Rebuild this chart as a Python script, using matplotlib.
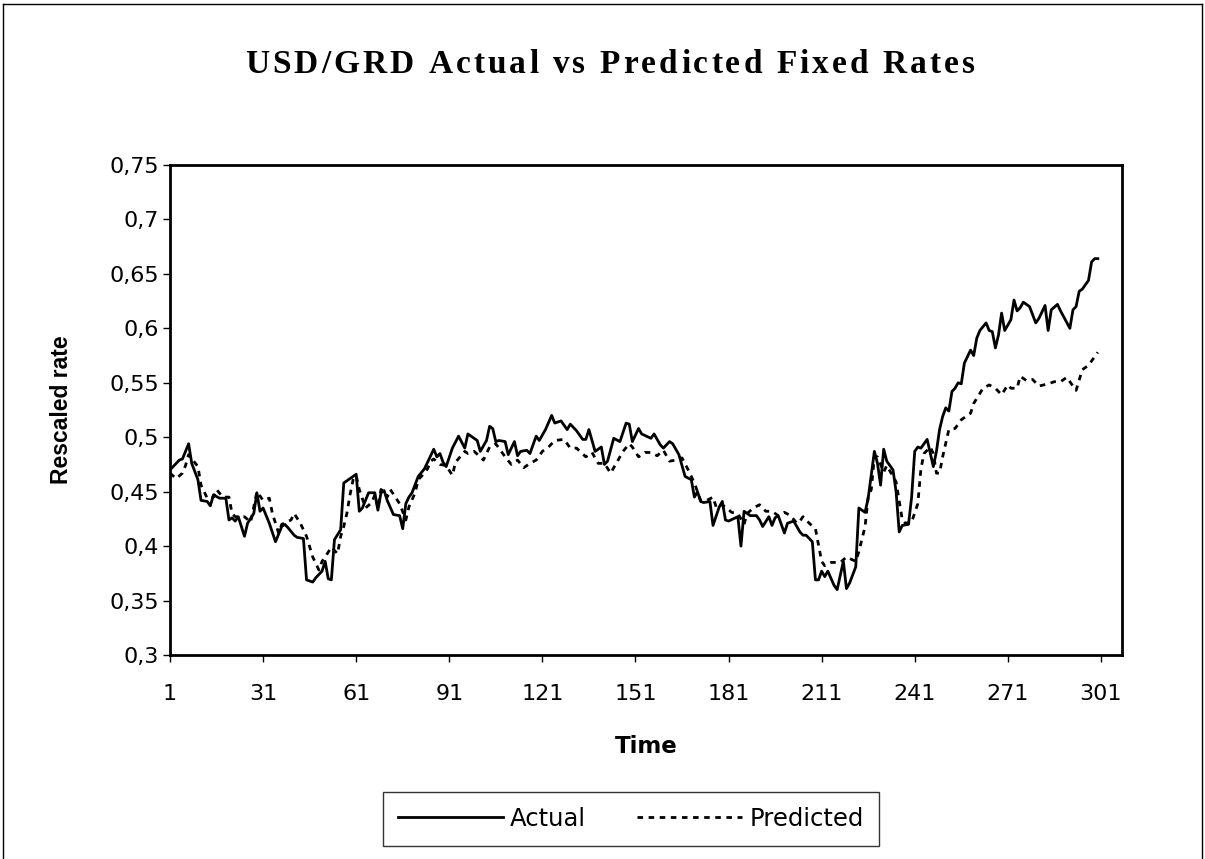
import matplotlib.pyplot as plt
from matplotlib.lines import Line2D

# time index and values
actual_t = [1, 4, 5, 7, 8, 10, 11, 13, 14, 15, 17, 19, 20, 21, 22, 23, 25, 26, 28, 29,
            30, 31, 33, 35, 37, 38, 39, 41, 42, 44, 45, 47, 48, 50, 51, 52, 53, 54, 56, 57,
            60, 61, 62, 63, 65, 67, 68, 69, 70, 71, 73, 75, 76, 77, 78, 79, 81, 83, 84, 86,
            87, 88, 89, 90, 92, 94, 96, 97, 99, 100, 101, 103, 104, 105, 106, 107, 109, 110, 112, 113,
            114, 116, 117, 119, 120, 122, 124, 125, 127, 129, 130, 132, 134, 135, 136, 138, 140, 141, 142, 144,
            146, 148, 149, 150, 152, 153, 156, 157, 159, 160, 162, 163, 165, 167, 169, 170, 171, 172, 173, 175,
            176, 178, 179, 180, 181, 184, 185, 186, 188, 190, 191, 192, 194, 195, 196, 197, 199, 200, 202, 204,
            205, 206, 208, 209, 210, 211, 212, 213, 215, 216, 218, 219, 220, 222, 223, 225, 226, 228, 229, 230,
            231, 232, 234, 235, 236, 237, 239, 240, 241, 242, 243, 245, 247, 248, 249, 250, 251, 252, 253, 254,
            255, 256, 257, 259, 260, 261, 262, 264, 265, 266, 267, 268, 269, 270, 272, 273, 274, 275, 276, 278,
            280, 281, 283, 284, 285, 287, 288, 291, 292, 293, 294, 295, 297, 298, 299, 300]
actual = [0.470, 0.479, 0.480, 0.494, 0.476, 0.461, 0.442, 0.441, 0.437, 0.447, 0.444, 0.444, 0.424, 0.426, 0.423, 0.427, 0.409, 0.421, 0.430, 0.449,
          0.432, 0.435, 0.421, 0.404, 0.418, 0.420, 0.417, 0.410, 0.408, 0.407, 0.369, 0.367, 0.371, 0.377, 0.386, 0.370, 0.369, 0.406, 0.415, 0.458,
          0.464, 0.466, 0.432, 0.435, 0.449, 0.449, 0.433, 0.449, 0.451, 0.442, 0.429, 0.428, 0.416, 0.439, 0.445, 0.449, 0.464, 0.471, 0.477, 0.489,
          0.482, 0.485, 0.477, 0.473, 0.490, 0.501, 0.490, 0.503, 0.499, 0.497, 0.487, 0.497, 0.510, 0.508, 0.496, 0.497, 0.496, 0.484, 0.496, 0.483,
          0.487, 0.488, 0.485, 0.501, 0.497, 0.507, 0.520, 0.513, 0.515, 0.507, 0.512, 0.506, 0.498, 0.498, 0.507, 0.487, 0.491, 0.475, 0.478, 0.499,
          0.496, 0.513, 0.512, 0.496, 0.508, 0.503, 0.499, 0.503, 0.493, 0.490, 0.496, 0.494, 0.484, 0.464, 0.461, 0.445, 0.450, 0.441, 0.440, 0.441,
          0.419, 0.436, 0.441, 0.424, 0.423, 0.427, 0.400, 0.432, 0.428, 0.428, 0.424, 0.418, 0.427, 0.419, 0.426, 0.428, 0.412, 0.421, 0.423, 0.413,
          0.410, 0.410, 0.404, 0.369, 0.369, 0.377, 0.372, 0.377, 0.364, 0.360, 0.386, 0.361, 0.366, 0.381, 0.435, 0.431, 0.444, 0.487, 0.476, 0.456,
          0.489, 0.478, 0.470, 0.450, 0.413, 0.419, 0.420, 0.445, 0.487, 0.491, 0.490, 0.498, 0.473, 0.487, 0.507, 0.519, 0.527, 0.524, 0.542, 0.545,
          0.550, 0.549, 0.568, 0.580, 0.575, 0.591, 0.598, 0.605, 0.598, 0.597, 0.582, 0.594, 0.614, 0.598, 0.608, 0.626, 0.616, 0.619, 0.624, 0.620,
          0.605, 0.609, 0.621, 0.598, 0.617, 0.622, 0.616, 0.600, 0.617, 0.620, 0.634, 0.636, 0.644, 0.661, 0.664, 0.664]

pred_t = [1, 3, 5, 6, 7, 10, 11, 13, 15, 16, 18, 20, 21, 22, 25, 27, 29, 31, 33, 34,
          36, 37, 40, 41, 43, 45, 47, 49, 50, 51, 53, 55, 56, 57, 58, 59, 60, 61, 62, 64,
          66, 67, 68, 69, 70, 71, 72, 75, 77, 78, 80, 81, 82, 84, 85, 86, 88, 90, 92, 93,
          96, 97, 99, 101, 102, 104, 106, 109, 111, 113, 115, 117, 119, 121, 123, 125, 128, 130, 132, 135,
          137, 139, 141, 143, 145, 147, 149, 150, 152, 154, 156, 158, 160, 162, 164, 166, 168, 170, 172, 174,
          176, 177, 178, 180, 182, 184, 186, 187, 189, 191, 193, 195, 197, 199, 201, 203, 204, 205, 207, 209,
          210, 211, 212, 214, 217, 219, 222, 223, 225, 226, 227, 228, 229, 231, 232, 235, 237, 238, 240, 242,
          243, 244, 246, 247, 248, 249, 250, 252, 254, 256, 257, 259, 260, 263, 265, 267, 269, 271, 272, 274,
          275, 277, 279, 281, 284, 286, 288, 290, 293, 295, 297, 300]
predicted = [0.467, 0.462, 0.467, 0.474, 0.484, 0.473, 0.456, 0.444, 0.445, 0.452, 0.445, 0.445, 0.430, 0.427, 0.427, 0.422, 0.450, 0.442, 0.444, 0.430,
             0.412, 0.420, 0.424, 0.430, 0.421, 0.409, 0.390, 0.378, 0.386, 0.390, 0.399, 0.393, 0.409, 0.418, 0.430, 0.447, 0.461, 0.465, 0.452, 0.435,
             0.440, 0.447, 0.435, 0.452, 0.450, 0.445, 0.452, 0.439, 0.424, 0.436, 0.449, 0.461, 0.464, 0.471, 0.478, 0.480, 0.475, 0.474, 0.465, 0.477,
             0.487, 0.485, 0.487, 0.482, 0.479, 0.491, 0.494, 0.482, 0.475, 0.479, 0.472, 0.476, 0.479, 0.487, 0.491, 0.497, 0.498, 0.490, 0.490, 0.482,
             0.486, 0.476, 0.476, 0.467, 0.477, 0.487, 0.494, 0.491, 0.482, 0.486, 0.486, 0.483, 0.488, 0.478, 0.479, 0.481, 0.470, 0.458, 0.442, 0.442,
             0.445, 0.436, 0.439, 0.436, 0.431, 0.430, 0.420, 0.430, 0.435, 0.438, 0.432, 0.432, 0.428, 0.431, 0.428, 0.421, 0.423, 0.427, 0.421, 0.416,
             0.401, 0.386, 0.382, 0.385, 0.385, 0.390, 0.386, 0.395, 0.418, 0.445, 0.452, 0.482, 0.482, 0.468, 0.474, 0.459, 0.424, 0.421, 0.422, 0.439,
             0.471, 0.485, 0.491, 0.485, 0.467, 0.467, 0.482, 0.507, 0.508, 0.516, 0.518, 0.522, 0.531, 0.545, 0.548, 0.545, 0.539, 0.548, 0.545, 0.545,
             0.556, 0.552, 0.553, 0.547, 0.549, 0.551, 0.551, 0.555, 0.543, 0.562, 0.566, 0.578]

x_ticks = [1, 31, 61, 91, 121, 151, 181, 211, 241, 271, 301]
y_ticks = [0.3, 0.35, 0.4, 0.45, 0.5, 0.55, 0.6, 0.65, 0.7, 0.75]
y_labels = ["0,3", "0,35", "0,4", "0,45", "0,5", "0,55", "0,6", "0,65", "0,7", "0,75"]
title = "USD/GRD Actual vs Predicted Fixed Rates"

plt.rcParams["font.family"] = ["DejaVu Sans"]
W, H = 1205, 859

fig = plt.figure(figsize=(W / 100, H / 100), dpi=100)
ax = fig.add_axes([170 / W, 1 - 655 / H, 952 / W, 490 / H])

ax.plot(actual_t, actual, color="black", linewidth=2.0, label="Actual")
ax.plot(pred_t, predicted, color="black", linewidth=2.0, linestyle=(0, (2, 2)), label="Predicted")

ax.set_xlim(1, 307.8)
ax.set_ylim(0.3, 0.75)
ax.set_xticks(x_ticks)
ax.set_xticklabels([str(t) for t in x_ticks])
ax.set_yticks(y_ticks)
ax.set_yticklabels(y_labels)
ax.tick_params(axis="both", labelsize=16, direction="out", length=5, width=1, color="black")
ax.tick_params(axis="x", pad=16)
ax.tick_params(axis="y", pad=3)
for s in ax.spines.values():
    s.set_linewidth(2)
    s.set_color("black")

ax.set_xlabel("Time", fontsize=16.5, fontweight="bold", labelpad=22)
ax.set_ylabel("Rescaled rate", fontsize=16.5, fontweight="bold", labelpad=26,
              family="Liberation Sans")

# title drawn letter by letter to get the letter spacing of the original
renderer = fig.canvas.get_renderer()
title_kw = dict(fontsize=24, fontweight="bold", family="Liberation Serif", va="baseline", ha="left")
widths = []
for ch in title:
    if ch == " ":
        widths.append(None)
        continue
    t = fig.text(0, 0, ch, **title_kw)
    widths.append(t.get_window_extent(renderer).width)
    t.remove()
space_w = 8.0
ink = sum(w if w is not None else space_w for w in widths)
gap = (730 - ink) / (len(title) - 1)
x = 245.0
for ch, w in zip(title, widths):
    if w is None:
        x += space_w + gap
        continue
    fig.text(x / W, 1 - 73 / H, ch, **title_kw)
    x += w + gap

leg = fig.legend(loc="center", bbox_to_anchor=(631 / W, 1 - 819 / H), ncol=2, fontsize=17.5,
                 frameon=True, fancybox=False, handlelength=4.3, handletextpad=0.3,
                 columnspacing=2.1, borderpad=0.62, borderaxespad=0)
leg.get_frame().set_edgecolor("black")
leg.get_frame().set_linewidth(1)

# outer chart frame
fig.add_artist(Line2D([3 / W, 3 / W], [0, 1 - 4 / H], transform=fig.transFigure, color="black", linewidth=1))
fig.add_artist(Line2D([3 / W, 1202 / W], [1 - 4 / H, 1 - 4 / H], transform=fig.transFigure, color="black", linewidth=1))
fig.add_artist(Line2D([1202 / W, 1202 / W], [0, 1 - 4 / H], transform=fig.transFigure, color="black", linewidth=1))

fig.savefig("out.png", dpi=100)
